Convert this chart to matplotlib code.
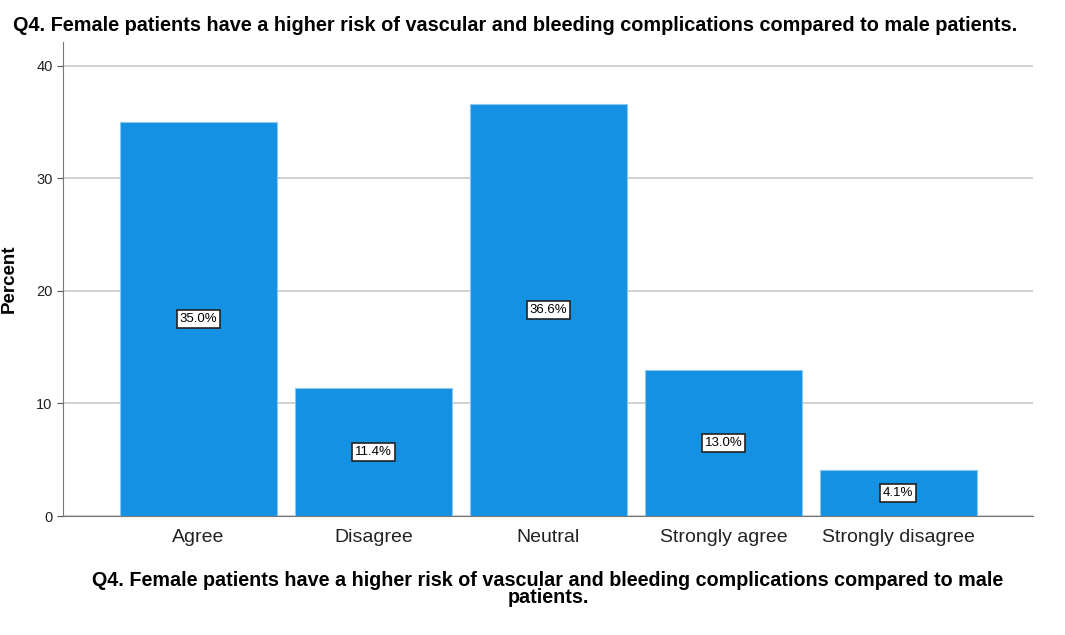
import matplotlib
matplotlib.use("Agg")
import matplotlib.pyplot as plt

categories = ["Agree", "Disagree", "Neutral", "Strongly agree", "Strongly disagree"]
percents = [35.0, 11.4, 36.6, 13.0, 4.1]
yticks = [0, 10, 20, 30, 40]

title = "Q4. Female patients have a higher risk of vascular and bleeding complications compared to male patients."
xlabel = "Q4. Female patients have a higher risk of vascular and bleeding complications compared to male\npatients."

plt.rcParams['font.family'] = ['Liberation Sans', 'DejaVu Sans']

fig = plt.figure(figsize=(10.65, 6.35), dpi=100)
ax = fig.add_axes([0.0592, 0.1874, 0.9108, 0.7466])

x = range(len(categories))
ax.bar(x, percents, width=0.897, color="#1591E3", edgecolor="#8cc6ee", linewidth=0.8, zorder=2)

for xi, p in zip(x, percents):
    ax.text(xi, p / 2, f"{p:.1f}%", ha="center", va="center", fontsize=9.5, zorder=3,
            bbox=dict(boxstyle="square,pad=0.22", facecolor="white", edgecolor="#222222", linewidth=1.2))

ax.set_xlim(-0.774, len(categories) - 1 + 0.77)
ax.set_ylim(0, 42.1)
ax.set_yticks(yticks)
ax.set_xticks(list(x))
ax.set_xticklabels(categories, fontsize=14, color="#222222")
ax.tick_params(axis="y", labelsize=10.5, length=4, color="#555555", labelcolor="#222222")
ax.tick_params(axis="x", length=0, pad=9)
ax.yaxis.grid(True, color="#c8c8c8", linewidth=1.2, zorder=0)
ax.set_axisbelow(True)

for side in ["top", "right"]:
    ax.spines[side].set_visible(False)
for side in ["left", "bottom"]:
    ax.spines[side].set_color("#777777")

ax.set_ylabel("Percent", fontsize=13.5, fontweight="bold", labelpad=13)
ax.set_xlabel(xlabel, fontsize=14.2, fontweight="bold", labelpad=18, linespacing=0.9)

fig.text(0.0122, 0.96, title, fontsize=14.3, fontweight="bold", ha="left", va="center")

fig.savefig("out.png", dpi=100)
